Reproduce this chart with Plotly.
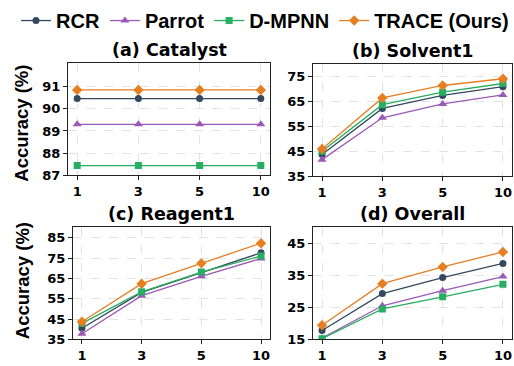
import plotly.graph_objects as go

W, H = 514, 366

x_labels = ["1", "3", "5", "10"]
methods = ["RCR", "Parrot", "D-MPNN", "TRACE (Ours)"]

catalyst_rcr = [90.47, 90.47, 90.47, 90.47]
catalyst_parrot = [89.3, 89.3, 89.3, 89.3]
catalyst_dmpnn = [87.43, 87.43, 87.43, 87.43]
catalyst_trace = [90.86, 90.86, 90.86, 90.86]

solvent_rcr = [43.7, 62.2, 67.4, 70.9]
solvent_parrot = [41.6, 58.4, 64.0, 67.6]
solvent_dmpnn = [45.0, 63.7, 68.7, 72.2]
solvent_trace = [45.9, 66.4, 71.4, 74.1]

reagent_rcr = [40.5, 58.1, 67.8, 77.6]
reagent_parrot = [37.8, 56.5, 66.0, 74.8]
reagent_dmpnn = [42.9, 58.4, 68.1, 76.0]
reagent_trace = [43.7, 62.4, 72.4, 82.3]

overall_rcr = [17.8, 29.3, 34.3, 38.7]
overall_parrot = [15.4, 25.5, 30.2, 34.6]
overall_dmpnn = [15.2, 24.5, 28.3, 32.2]
overall_trace = [19.4, 32.4, 37.6, 42.3]

panels = [
    ("(a) Catalyst", [catalyst_rcr, catalyst_parrot, catalyst_dmpnn, catalyst_trace], [87, 92.1], [87, 88, 89, 90, 91]),
    ("(b) Solvent1", [solvent_rcr, solvent_parrot, solvent_dmpnn, solvent_trace], [35, 80.2], [35, 45, 55, 65, 75]),
    ("(c) Reagent1", [reagent_rcr, reagent_parrot, reagent_dmpnn, reagent_trace], [35, 90.3], [35, 45, 55, 65, 75, 85]),
    ("(d) Overall", [overall_rcr, overall_parrot, overall_dmpnn, overall_trace], [15, 50.1], [15, 25, 35, 45]),
]

colors = ["#34495e", "#9b59b6", "#27ae60", "#e67e22"]
symbols = ["circle", "triangle-up", "square", "diamond"]
msizes = [7, 8, 7, 8]

# target pixel boxes (left, right, top, bottom)
boxes = [(68, 270, 64, 179), (313, 512, 65, 180), (73, 270, 232, 347), (313, 512, 232, 347)]
ylabel_centers = [126.5, 287.5]


def px(v):
    return v / W


def py(v):
    return 1 - v / H


fig = go.Figure()
tickfont = dict(family="DejaVu Sans", size=13, color="black", weight="bold")
annotations = []
for i, (title, series, yr, yt) in enumerate(panels):
    ax = "" if i == 0 else str(i + 1)
    l, r, t, b = boxes[i]
    for j, name in enumerate(methods):
        fig.add_trace(go.Scatter(
            x=x_labels, y=series[j], name=name, mode="lines+markers",
            line=dict(color=colors[j], width=1.3),
            marker=dict(symbol=symbols[j], size=msizes[j], color=colors[j]),
            showlegend=(i == 0), legendgroup=name,
            xaxis="x" + ax, yaxis="y" + ax,
        ))
    common = dict(showline=True, linecolor="#222222", linewidth=1, mirror=True,
                  ticks="outside", ticklen=4, tickcolor="#222222", tickwidth=1,
                  showgrid=True, gridcolor="#e3e3e3", griddash="dash", gridwidth=1,
                  tickfont=tickfont, zeroline=False)
    fig.update_layout(**{
        "xaxis" + ax: dict(domain=[px(l), px(r)], anchor="y" + ax, type="category",
                           categoryorder="array", categoryarray=x_labels,
                           range=[-0.15, 3.15], **common),
        "yaxis" + ax: dict(domain=[py(b), py(t)], anchor="x" + ax,
                           range=yr, tickvals=yt, **common),
    })
    annotations.append(dict(text=title, x=px((l + r) / 2), y=py(t - 13),
                            xref="paper", yref="paper", xanchor="center", yanchor="middle",
                            showarrow=False,
                            font=dict(family="DejaVu Sans", size=17.5, color="black", weight="bold")))

for yc in ylabel_centers:
    annotations.append(dict(text="Accuracy (%)", x=px(22), y=py(yc), xref="paper", yref="paper",
                            xanchor="center", yanchor="middle", textangle=-90, showarrow=False,
                            font=dict(family="Liberation Sans", size=18.5, color="black", weight="bold")))

fig.update_layout(
    width=W, height=H, margin=dict(l=0, r=0, t=0, b=0),
    plot_bgcolor="white", paper_bgcolor="white",
    annotations=annotations,
    legend=dict(orientation="h", x=px(25), y=py(21), xanchor="left", yanchor="middle",
                font=dict(family="Liberation Sans", size=20, color="black", weight="bold"),
                bgcolor="rgba(0,0,0,0)", itemwidth=30, tracegroupgap=0),
)

page_fix = (
    "var hs=document.documentElement.style;hs.margin='0';hs.padding='0';"
    "hs.overflow='hidden';hs.height='366px';hs.width='514px';"
    "var bs=document.body.style;bs.margin='0';bs.padding='0';"
    "bs.overflow='hidden';bs.height='366px';bs.width='514px';"
)

fig.write_html("out.html", config={"displayModeBar": False}, post_script=page_fix)
